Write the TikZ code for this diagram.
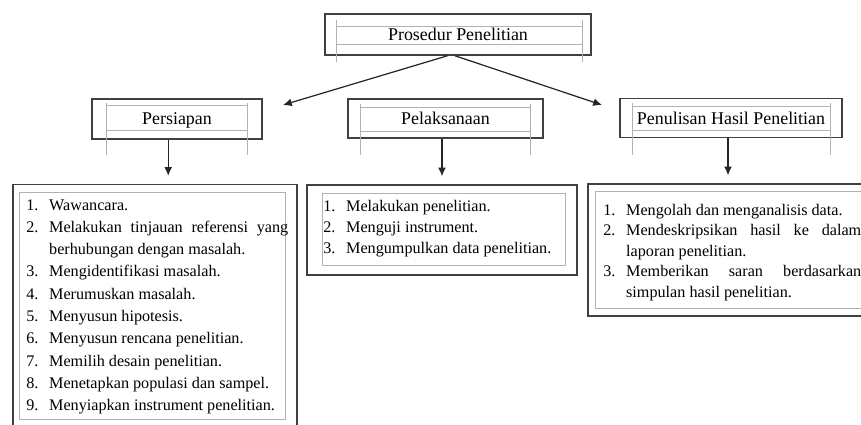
\documentclass[tikz,border=0pt]{standalone}
\usepackage{fontspec}
\setmainfont{Liberation Serif}
\usetikzlibrary{arrows.meta}
\newcommand{\litem}[2]{\hangindent=13pt\hangafter=1\noindent\makebox[13pt][l]{#1.}#2\par}
\tolerance=9999
\hyphenpenalty=10000
\begin{document}
\begin{tikzpicture}[x=0.02cm, y=-0.02cm, >={Latex[length=5pt,width=4.5pt]},
  hdr/.style={draw=black!75, line width=0.9pt, inner sep=0pt, text depth=0pt,
    font=\fontsize{10.2pt}{12pt}\selectfont},
  frm/.style={draw=black!75, line width=0.9pt, inner sep=0pt},
  txt/.style={anchor=north west, inner sep=0pt, align=justify},
  guide/.style={draw=black!30, line width=0.4pt},
  arr/.style={->, draw=black!85, line width=0.7pt}]
  \useasboundingbox (0,0) rectangle (861,425);
  % header boxes
  \node[hdr, minimum width=5.32cm, minimum height=0.82cm] (prosedur) at (458,34.5) {Prosedur Penelitian};
  \node[hdr, minimum width=3.4cm, minimum height=0.8cm] (persiapan) at (177,119) {Persiapan};
  \node[hdr, minimum width=3.9cm, minimum height=0.78cm] (pelaksanaan) at (445.5,118.5) {Pelaksanaan};
  \node[hdr, minimum width=4.44cm, minimum height=0.78cm] (penulisan) at (731,118) {Penulisan Hasil Penelitian};
  % list frames
  \node[frm, minimum width=5.68cm, minimum height=4.9cm] (persList) at (155,307) {};
  \node[frm, minimum width=5.4cm, minimum height=1.8cm] (pelaksList) at (442,230) {};
  \node[frm, minimum width=5.6cm, minimum height=2.64cm] (penulList) at (728,250) {};
  % text box guides
  \draw[guide] (336,20) -- (336,62) (582,20) -- (582,62) (336,26) -- (582,26) (336,44) -- (582,44);
  \draw[guide] (106,103) -- (106,155) (247,103) -- (247,155) (106,105) -- (247,105) (106,130) -- (247,130);
  \draw[guide] (360,104) -- (360,155) (530,104) -- (530,155) (360,107) -- (530,107) (360,131) -- (530,131);
  \draw[guide] (632,103) -- (632,155) (830,103) -- (830,155) (632,106) -- (830,106) (632,130) -- (830,130);
  \draw[guide] (19,192) rectangle (285,419);
  \draw[guide] (322,193) rectangle (565,265);
  \draw[guide] (595,191) rectangle (870,308);
  % list texts
  \node[txt, text width=5.24cm, font=\fontsize{9.2pt}{12.7pt}\selectfont] (persText) at (26,199)
    {\litem{1}{Wawancara.}
     \litem{2}{Melakukan tinjauan referensi yang berhubungan dengan masalah.}
     \litem{3}{Mengidentifikasi masalah.}
     \litem{4}{Merumuskan masalah.}
     \litem{5}{Menyusun hipotesis.}
     \litem{6}{Menyusun rencana penelitian.}
     \litem{7}{Memilih desain penelitian.}
     \litem{8}{Menetapkan populasi dan sampel.}
     \litem{9}{Menyiapkan instrument penelitian.}};
  \node[txt, text width=4.84cm, font=\fontsize{9.2pt}{11.8pt}\selectfont] (pelaksText) at (323,200)
    {\litem{1}{Melakukan penelitian.}
     \litem{2}{Menguji instrument.}
     \litem{3}{Mengumpulkan data penelitian.}};
  \node[txt, text width=5.16cm, font=\fontsize{9.2pt}{11.6pt}\selectfont] (penulText) at (603,204)
    {\litem{1}{Mengolah dan menganalisis data.}
     \litem{2}{Mendeskripsikan hasil ke dalam laporan penelitian.}
     \litem{3}{Memberikan saran berdasarkan simpulan hasil penelitian.}};
  % arrows
  \coordinate (tipL) at (283,105);
  \coordinate (tipR) at (602,105);
  \draw[arr] ([xshift=-6pt]prosedur.south) -- (tipL);
  \draw[arr] ([xshift=-1.7pt]prosedur.south) -- (tipR);
  \draw[arr, shorten >=4.5pt] ([xshift=-5pt]persiapan.south) -- ([xshift=-5pt]persiapan.south |- persList.north);
  \draw[arr, shorten >=4.5pt] ([xshift=-2pt]pelaksanaan.south) -- ([xshift=-2pt]pelaksanaan.south |- pelaksList.north);
  \draw[arr, shorten >=4.5pt] ([xshift=-1.7pt]penulisan.south) -- ([xshift=-1.7pt]penulisan.south |- penulList.north);
\end{tikzpicture}
\end{document}
